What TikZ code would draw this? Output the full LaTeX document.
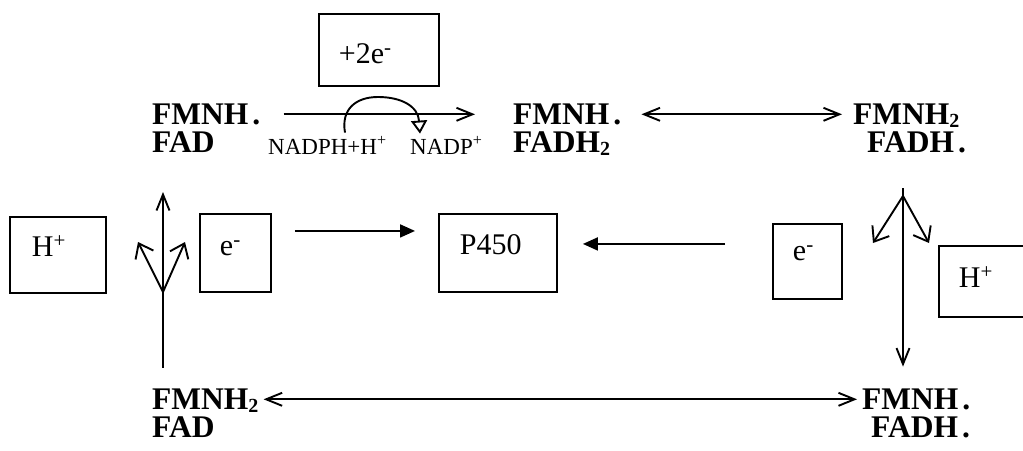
\documentclass[tikz,border=0pt]{standalone}
\usepackage{fontspec}
\setmainfont{Liberation Serif}
\usetikzlibrary{arrows.meta,calc}
\newcommand{\subtwo}{\raisebox{-2.5pt}{\fontsize{20}{20}\selectfont 2}}
\begin{document}
\begin{tikzpicture}[x=1pt,y=-1pt,
  ln/.style={line width=1.9pt},
  sp/.style={font=\bfseries\fontsize{31.5}{31.5}\selectfont, inner sep=0pt, text height=21pt, text depth=0pt, anchor=south west},
  sm/.style={font=\fontsize{23}{23}\selectfont, inner sep=0pt, text height=15pt, text depth=0pt, anchor=south west},
  bx/.style={draw, line width=1.9pt, font=\fontsize{30}{30}\selectfont, align=left, anchor=north west, inner ysep=4pt},
  ba/.style={ln, -{Straight Barb[length=16pt,width=13pt]}},
  dba/.style={ln, {Straight Barb[length=16pt,width=13pt]}-{Straight Barb[length=16pt,width=13pt]}},
  fork/.style={ln, -{Straight Barb[length=13pt,width=20pt]}},
  tri/.style={ln, -{Triangle[length=15pt,width=13pt]}},
  curv/.style={ln, -{Triangle[open,length=13pt,width=16pt]}}
]
\useasboundingbox (0,0) rectangle (1023,450);

% boxes
\node[bx, text width=80pt, inner xsep=20pt, text height=46pt, text depth=18pt] (two) at (318,13) {+2e\textsuperscript{-}};
\node[bx, text width=76pt, inner xsep=21pt, text height=37pt, text depth=33pt] (p450) at (438,213) {P450};
\node[bx, text width=52pt, inner xsep=22pt, text height=36pt, text depth=32pt] (lh) at (9,216) {H\textsuperscript{+}};
\node[bx, text width=31pt, inner xsep=20pt, text height=38pt, text depth=32pt] (le) at (199,213) {e\textsuperscript{-}};
\node[bx, text width=29pt, inner xsep=20pt, text height=33pt, text depth=34pt] (re) at (772,223) {e\textsuperscript{-}};
\node[bx, text width=52pt, inner xsep=20pt, text height=38pt, text depth=25pt] (rh) at (938,245) {H\textsuperscript{+}};

% species
\node[sp] (tl1) at (152,125) {FMNH\hspace{4pt}.};
\node[sp] (tl2) at (152,153) {FAD};
\node[sp] (tm1) at (513,125) {FMNH\hspace{4pt}.};
\node[sp] (tm2) at (513,153) {FADH\subtwo};
\node[sp] (tr1) at (853,125) {FMNH\subtwo};
\node[sp] (tr2) at (867,153) {FADH\hspace{4pt}.};
\node[sp] (bl1) at (152,410) {FMNH\subtwo};
\node[sp] (bl2) at (152,438) {FAD};
\node[sp] (br1) at (862,410) {FMNH\hspace{4pt}.};
\node[sp] (br2) at (871,438) {FADH\hspace{4pt}.};

\node[sm] (nadph) at (268,155) {NADPH+H\textsuperscript{+}};
\node[sm] (nadp) at (410,155) {NADP\textsuperscript{+}};

% horizontal arrows
\draw[ba, shorten <=23pt, shorten >=38pt] (tl1.east) -- (tm1.west);
\draw[dba, shorten <=20pt, shorten >=11pt] (tm1.east) -- (tr1.west);
\draw[dba, shorten <=5pt, shorten >=5pt] (bl1.east) -- (br1.west);

% NADPH curve
\draw[curv] ($(nadph.north west)+(77,-7)$) .. controls (341,110) and (355,97) .. (378,97)
  .. controls (401,97) and (418,106) .. ($(nadp.north west)+(10,-6)$);

% P450 arrows
\draw[tri, shorten <=23pt, shorten >=23pt] ([yshift=22pt]le.east) -- ([yshift=22pt]le.east -| p450.west);
\draw[tri, shorten <=47pt, shorten >=25pt] ([yshift=17.5pt]re.west) -- ([yshift=17.5pt]re.west -| p450.east);

% vertical arrows with forks
\coordinate (lf) at (163,292);
\coordinate (lfa) at (138,242);
\coordinate (lfb) at (185,242);
\coordinate (rf) at (903,196);
\coordinate (rfa) at (873,243);
\coordinate (rfb) at (929,243);
\draw[ba, shorten <=21pt, shorten >=39pt] (lf |- bl1.north) -- (lf |- tl2.south);
\draw[fork] (lf) -- (lfa);
\draw[fork] (lf) -- (lfb);
\draw[ba, shorten <=35pt, shorten >=22pt] (rf |- tr2.south) -- (rf |- br1.north);
\draw[fork] (rf) -- (rfa);
\draw[fork] (rf) -- (rfb);
\end{tikzpicture}
\end{document}
